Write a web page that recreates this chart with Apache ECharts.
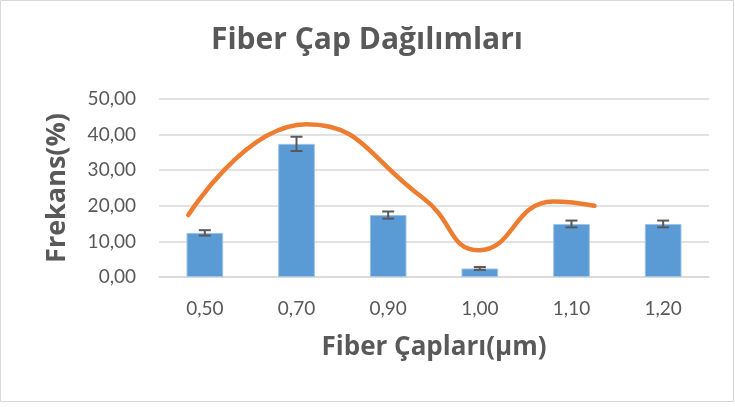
<!DOCTYPE html>
<html>
<head>
<meta charset="utf-8">
<script src="https://cdn.jsdelivr.net/npm/echarts@6/dist/echarts.min.js"></script>
<style>
  html,body{margin:0;padding:0;background:#fff}
  #chart{width:735px;height:407px}
</style>
</head>
<body>
<div id="chart"></div>
<script>
// kategoriler (fiber çapları)
const categories = ['0,50', '0,70', '0,90', '1,00', '1,10', '1,20']
// sütun değerleri (%)
const frekans = [12.4, 37.4, 17.4, 2.4, 14.9, 14.9]
// hata çubukları (±)
const hata = [0.75, 2.0, 1.0, 0.4, 0.95, 0.95]
// turuncu eğri: x kategori sırası cinsinden, y yüzde
const egriX = [-0.18, 1.11, 2.38, 2.99, 3.80, 4.25]
const egriY = [17.4, 42.9, 22.2, 7.5, 21.2, 20.0]

const gri = '#595959'
const chart = echarts.init(document.getElementById('chart'))

chart.setOption({
  animation: false,
  graphic: [{
    type: 'rect',
    shape: {x: 0.5, y: 0.5, width: 733, height: 401},
    style: {fill: null, stroke: '#d9d9d9', lineWidth: 1}
  }],
  title: {
    text: 'Fiber Çap Dağılımları',
    left: 362,
    textAlign: 'center',
    top: 20,
    textStyle: {fontFamily: 'Open Sans', fontWeight: 'bold', fontSize: 30, color: gri}
  },
  grid: {left: 159, right: 26, top: 99, bottom: 130},
  xAxis: [{
    type: 'category',
    data: categories,
    name: 'Fiber Çapları(µm)',
    nameLocation: 'middle',
    nameGap: 58,
    nameTextStyle: {fontFamily: 'Open Sans', fontWeight: 'bold', fontSize: 26, color: gri},
    axisLine: {lineStyle: {color: '#d9d9d9', width: 1.5}},
    axisTick: {show: false},
    axisLabel: {margin: 22, fontFamily: 'Lato', fontSize: 19, color: gri}
  }, {
    type: 'value',
    min: -0.5,
    max: 5.5,
    show: false
  }],
  yAxis: {
    type: 'value',
    min: 0,
    max: 50,
    interval: 10,
    name: 'Frekans(%)',
    nameLocation: 'middle',
    nameGap: 88,
    nameTextStyle: {fontFamily: 'Open Sans', fontWeight: 'bold', fontSize: 27, color: gri},
    axisLine: {show: false},
    axisTick: {show: false},
    splitLine: {lineStyle: {color: '#d9d9d9', width: 1.5}},
    axisLabel: {
      margin: 23,
      fontFamily: 'Lato',
      fontSize: 19,
      color: gri,
      formatter: v => v.toFixed(2).replace('.', ',')
    }
  },
  series: [
    {
      type: 'bar',
      data: frekans,
      barWidth: '40%',
      itemStyle: {color: '#5b9bd5', borderColor: '#9dc3e6', borderWidth: 1}
    },
    {
      type: 'custom',
      data: categories.map((c, i) => [i, frekans[i], hata[i]]),
      encode: {x: 0, y: 1},
      z: 3,
      renderItem(params, api) {
        const i = api.value(0), v = api.value(1), e = api.value(2)
        const ust = api.coord([i, v + e])
        const alt = api.coord([i, v - e])
        const w = 6
        const style = {stroke: gri, lineWidth: 2}
        return {
          type: 'group',
          children: [
            {type: 'line', shape: {x1: ust[0], y1: ust[1], x2: alt[0], y2: alt[1]}, style},
            {type: 'line', shape: {x1: ust[0] - w, y1: ust[1], x2: ust[0] + w, y2: ust[1]}, style},
            {type: 'line', shape: {x1: alt[0] - w, y1: alt[1], x2: alt[0] + w, y2: alt[1]}, style}
          ]
        }
      }
    },
    {
      type: 'line',
      xAxisIndex: 1,
      data: egriX.map((x, i) => [x, egriY[i]]),
      smooth: 0.5,
      showSymbol: false,
      z: 4,
      lineStyle: {color: '#ed7d31', width: 4.5, cap: 'round'}
    }
  ]
})
</script>
</body>
</html>
